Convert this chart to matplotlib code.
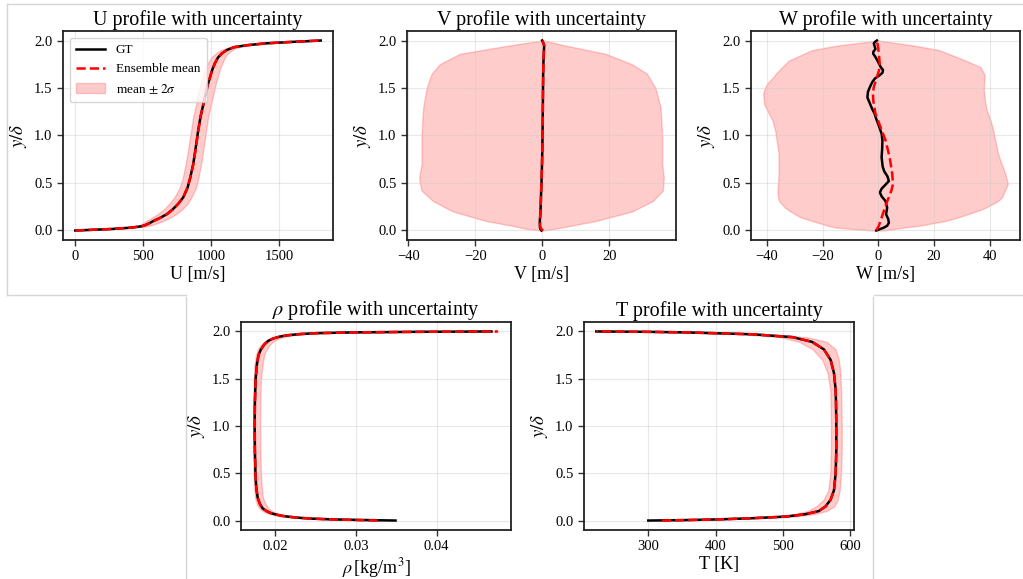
import matplotlib
matplotlib.use("Agg")
import matplotlib.pyplot as plt
from matplotlib.lines import Line2D

plt.rcParams["font.family"] = ["Liberation Serif", "DejaVu Serif"]
plt.rcParams["mathtext.fontset"] = "stix"

#streamwise velocity U
u_y = [0, 0.015, 0.03, 0.045, 0.06, 0.08, 0.10, 0.13, 0.17, 0.22, 0.28, 0.35, 0.45, 0.55, 0.70,
       0.85, 1.05, 1.20, 1.40, 1.55, 1.70, 1.76, 1.82, 1.86, 1.90, 1.93, 1.95, 1.97, 1.985, 2.0]
u_gt = [0, 255, 410, 490, 520, 550, 575, 620, 672, 715, 757, 795, 826, 845, 868,
        884, 904, 922, 954, 978, 1010, 1027, 1050, 1075, 1115, 1170, 1260, 1400, 1590, 1806]
u_mean = [0, 250, 405, 488, 522, 552, 578, 622, 673, 716, 757, 794, 825, 845, 869,
          885, 905, 922, 953, 977, 1010, 1028, 1050, 1076, 1113, 1168, 1262, 1402, 1592, 1806]
u_lo = [0, 240, 385, 455, 478, 500, 520, 560, 605, 650, 690, 730, 768, 790, 812,
        830, 852, 868, 900, 922, 955, 975, 1000, 1030, 1072, 1135, 1235, 1385, 1580, 1806]
u_hi = [0, 270, 430, 525, 570, 610, 645, 690, 740, 785, 825, 855, 888, 905, 926,
        942, 962, 978, 1010, 1035, 1065, 1082, 1100, 1120, 1155, 1200, 1285, 1415, 1600, 1806]

#wall-normal velocity V
v_y = [0, 0.02, 0.05, 0.10, 0.20, 0.31, 0.42, 0.50, 0.56, 0.70,
       0.85, 1.00, 1.15, 1.30, 1.50, 1.65, 1.75, 1.86, 1.95, 2.0]
v_gt = [-0.2, -0.6, -0.7, -0.7, -0.5, -0.4, -0.3, -0.2, -0.15, -0.05,
        0.05, 0.1, 0.15, 0.2, 0.25, 0.3, 0.35, 0.5, 0.6, 0]
v_mean = [0.3, -0.4, -0.6, -0.65, -0.5, -0.4, -0.3, -0.2, -0.15, -0.05,
          0.05, 0.1, 0.15, 0.2, 0.25, 0.3, 0.35, 0.45, 0.55, 0.1]
v_lo = [-0.5, -5, -9, -16.7, -26.6, -32.6, -36, -36.5, -36.7, -36,
        -36, -36, -35.8, -35.5, -34.5, -33, -30.6, -24.6, -9.5, 0]
v_hi = [0.5, 4, 8.5, 16, 26.8, 33, 36, 36.2, 36.3, 35.8,
        35.8, 35.8, 35.6, 35.3, 33.8, 31.3, 26.8, 18.9, 6.5, 0.5]

#spanwise velocity W
w_gt_y = [0, 0.01, 0.03, 0.05, 0.08, 0.12, 0.17, 0.24, 0.31, 0.36, 0.40, 0.44, 0.47, 0.52,
          0.57, 0.62, 0.67, 0.77, 0.86, 0.95, 1.02, 1.07, 1.12, 1.18, 1.23, 1.28, 1.33,
          1.40, 1.46, 1.51, 1.56, 1.60, 1.63, 1.66, 1.69, 1.72, 1.76, 1.80, 1.83, 1.86,
          1.88, 1.91, 1.94, 1.97, 1.99, 2.0]
w_gt = [-0.7, 0.2, 2.0, 3.2, 3.8, 3.6, 2.8, 3.2, 2.6, 1.2, 0.6, 1.2, 2.2, 3.8,
        3.3, 2.2, 1.6, 1.2, 1.4, 1.5, 1.2, 0.6, 0.0, -0.8, -1.3, -2.2, -2.9,
        -3.9, -3.7, -3.0, -2.2, -1.2, 0.3, 1.5, 1.7, 0.9, 0.2, -0.5, -1.1, -1.8,
        -1.8, -1.0, -1.3, -1.6, -1.0, -0.5]
w_mean_y = [0, 0.05, 0.10, 0.17, 0.24, 0.30, 0.35, 0.42, 0.49, 0.60, 0.77, 0.95,
            1.09, 1.23, 1.37, 1.45, 1.51, 1.62, 1.72, 1.80, 1.86, 1.92, 1.97, 2.0]
w_mean = [-0.7, 0.2, 0.8, 1.6, 2.4, 3.1, 3.8, 4.7, 5.3, 5.0, 4.1, 2.6,
          0.8, -1.0, -1.8, -1.9, -1.6, -0.4, 0.6, 0.4, 0.2, 0.0, -0.3, 0.0]
w_band_y = [0, 0.03, 0.05, 0.10, 0.14, 0.21, 0.24, 0.31, 0.35, 0.42, 0.49, 0.60, 0.74, 0.81, 0.95,
            1.05, 1.16, 1.26, 1.33, 1.44, 1.48, 1.55, 1.62, 1.65, 1.72, 1.79, 1.90, 1.95, 2.0]
w_lo = [-2, -15, -18, -23.7, -28, -32, -33.5, -35.6, -36, -36.2, -36, -35.8, -35.8, -35.8, -36.5,
        -37, -38, -39.8, -41, -41.3, -41, -39.8, -37.5, -36.8, -34.5, -32, -23.7, -14, 0]
w_hi = [2, 9, 14.6, 24, 28.9, 36, 38.5, 43, 44.4, 45.5, 46.5, 45.6, 43.8, 43, 42,
        41.3, 40.3, 39, 38.5, 38, 37.9, 38, 38.2, 38, 36.7, 31.3, 21.7, 12.2, 0]

#density
rho_y = [0, 0.005, 0.01, 0.015, 0.02, 0.03, 0.04, 0.05, 0.065, 0.08, 0.10, 0.13, 0.17, 0.24, 0.35,
         0.50, 0.75, 1.00, 1.25, 1.50, 1.65, 1.75, 1.81, 1.86, 1.90, 1.925, 1.945, 1.96, 1.972,
         1.982, 1.99, 1.996, 2.0]
rho_gt = [0.0349, 0.0315, 0.0283, 0.0262, 0.0246, 0.0228, 0.0217, 0.0208, 0.0200, 0.0194, 0.0189,
          0.0184, 0.0181, 0.0178, 0.01762, 0.01752, 0.01745, 0.01742, 0.01745, 0.01755, 0.0177,
          0.0179, 0.0182, 0.0186, 0.0191, 0.0197, 0.0205, 0.0215, 0.0230, 0.0250, 0.0295,
          0.0370, 0.0468]
rho_mean = [0.0327, 0.0302, 0.0280, 0.0261, 0.0246, 0.0228, 0.0217, 0.0208, 0.0200, 0.0194, 0.0189,
            0.0184, 0.0181, 0.0178, 0.01762, 0.01752, 0.01745, 0.01742, 0.01745, 0.01755, 0.0177,
            0.0179, 0.0182, 0.0186, 0.0191, 0.0197, 0.0205, 0.0215, 0.0230, 0.0252, 0.0300,
            0.0378, 0.0476]
rho_lo = [0.0324, 0.0298, 0.0276, 0.0257, 0.0241, 0.0223, 0.0212, 0.0203, 0.0195, 0.0189, 0.0184,
          0.0180, 0.0177, 0.01748, 0.01735, 0.01728, 0.01725, 0.01725, 0.01726, 0.0173, 0.0174,
          0.01758, 0.0178, 0.0182, 0.0187, 0.0193, 0.0201, 0.0211, 0.0226, 0.0248, 0.0296,
          0.0374, 0.0472]
rho_hi = [0.0331, 0.0307, 0.0286, 0.0267, 0.0252, 0.0235, 0.0224, 0.0215, 0.0207, 0.0201, 0.0196,
          0.0191, 0.0188, 0.01845, 0.0183, 0.0182, 0.01812, 0.0181, 0.01812, 0.0182, 0.0184,
          0.0186, 0.0189, 0.0193, 0.0198, 0.0204, 0.0212, 0.0222, 0.0237, 0.0258, 0.0306,
          0.0384, 0.0477]

#temperature
t_y = [0, 0.005, 0.01, 0.015, 0.025, 0.042, 0.067, 0.10, 0.15, 0.22, 0.32, 0.50, 0.75,
       1.00, 1.25, 1.38, 1.56, 1.70, 1.81, 1.89, 1.94, 1.97, 1.99, 1.996, 2.0]
t_gt = [300, 355, 390, 415, 455, 504, 533, 553, 563, 570.5, 575.5, 578, 579,
        579, 578.5, 578, 575.5, 570.5, 560.6, 543, 514, 455, 357, 300, 222.8]
t_mean = [320, 358, 391, 415, 455, 504, 533, 553, 563.5, 570.5, 575.5, 578, 579,
          579, 578.5, 578, 575.5, 570.5, 560.6, 543, 514, 455, 358, 300, 223]
t_lo = [318, 350, 380, 404, 445, 490, 516, 536, 549, 560, 567, 570, 571,
        571, 570.5, 570, 566, 558, 544, 524, 496, 440, 345, 292, 222.8]
t_hi = [322, 364, 400, 424, 466, 516, 546, 564, 576, 581, 584, 586, 587,
        587, 586.5, 586, 585, 582.7, 578, 565, 535, 470, 370, 308, 223.5]


def draw_profile(ax, y_gt, gt, y_mean, mean, y_band, lo, hi, title, xlabel):
    ax.plot(gt, y_gt, color="black", lw=1.8, label="GT")
    ax.plot(mean, y_mean, color="red", ls="--", lw=1.8, label="Ensemble mean")
    ax.fill_betweenx(y_band, lo, hi, color="red", alpha=0.2, label=r"mean $\pm\ 2\sigma$")

    ax.set_title(title, fontsize=14.5, pad=4)
    ax.set_xlabel(xlabel, fontsize=13, labelpad=2)
    ax.set_ylabel(r"$y/\delta$", fontsize=13.5, labelpad=4)
    ax.set_yticks([0.0, 0.5, 1.0, 1.5, 2.0])
    ax.tick_params(labelsize=10.5, length=4, width=1, color="#333333")
    ax.grid(True, color="#cccccc", alpha=0.45, lw=0.8)
    for s in ax.spines.values():
        s.set_linewidth(1.3)
        s.set_color("#222222")


fig = plt.figure(figsize=(10.23, 5.79), dpi=100)
W, H = 1023, 579


def px_axes(left, top, right, bottom):
    return fig.add_axes([left / W, 1 - bottom / H, (right - left) / W, (bottom - top) / H])


ax_u = px_axes(63, 31, 333, 240)
ax_v = px_axes(407, 31, 676, 240)
ax_w = px_axes(751, 31, 1020, 240)
ax_r = px_axes(241, 322, 511, 530)
ax_t = px_axes(584, 322, 854, 530)

draw_profile(ax_u, u_y, u_gt, u_y, u_mean, u_y, u_lo, u_hi,
             "U profile with uncertainty", "U [m/s]")
draw_profile(ax_v, v_y, v_gt, v_y, v_mean, v_y, v_lo, v_hi,
             "V profile with uncertainty", "V [m/s]")
draw_profile(ax_w, w_gt_y, w_gt, w_mean_y, w_mean, w_band_y, w_lo, w_hi,
             "W profile with uncertainty", "W [m/s]")
draw_profile(ax_r, rho_y, rho_gt, rho_y, rho_mean, rho_y, rho_lo, rho_hi,
             r"$\rho$ profile with uncertainty", r"$\rho\,$[kg/m$^3$]")
draw_profile(ax_t, t_y, t_gt, t_y, t_mean, t_y, t_lo, t_hi,
             "T profile with uncertainty", "T [K]")

ax_u.legend(loc="upper left", fontsize=9.5, handlelength=2.2, borderpad=0.5)

#thin frames around the two rows of panels
frame_kw = dict(transform=fig.transFigure, color="#d6d6d6", lw=1)
fig.add_artist(Line2D([7 / W, 1], [1 - 4 / H, 1 - 4 / H], **frame_kw))
fig.add_artist(Line2D([7 / W, 7 / W], [1 - 4 / H, 1 - 295 / H], **frame_kw))
fig.add_artist(Line2D([7 / W, 186 / W], [1 - 295 / H, 1 - 295 / H], **frame_kw))
fig.add_artist(Line2D([874 / W, 1], [1 - 295 / H, 1 - 295 / H], **frame_kw))
fig.add_artist(Line2D([186 / W, 186 / W], [1 - 297 / H, 0], **frame_kw))
fig.add_artist(Line2D([873 / W, 873 / W], [1 - 297 / H, 0], **frame_kw))

fig.savefig("out.png", dpi=100)
